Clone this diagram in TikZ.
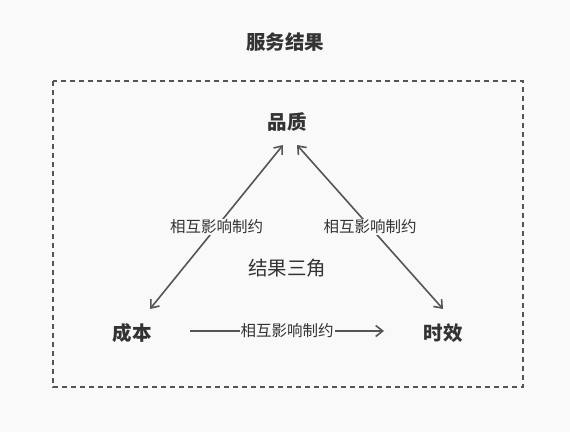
\documentclass[tikz,border=0pt]{standalone}
\usepackage{fontspec}
\setmainfont{Noto Sans CJK SC}
\usetikzlibrary{arrows.meta}
\definecolor{bg}{HTML}{F9F9F9}
\definecolor{ln}{HTML}{555555}
\definecolor{tx}{HTML}{333333}
\begin{document}
\begin{tikzpicture}[x=1pt,y=1pt,
  head/.style={font=\fontsize{19.5}{22}\selectfont\bfseries,text=tx},
  lbl/.style={font=\fontsize{15.5}{18}\selectfont,text=tx,fill=bg,inner sep=1pt},
  conn/.style={draw=ln,line width=1.6pt,-{Straight Barb[length=7pt,width=11pt,line width=1.6pt]}},
  both/.style={draw=ln,line width=1.6pt,{Straight Barb[length=7pt,width=11pt,line width=1.6pt]}-{Straight Barb[length=7pt,width=11pt,line width=1.6pt]}}]
\fill[bg] (0,0) rectangle (570,432);
\useasboundingbox (0,0) rectangle (570,432);
\node[head] (title) at (285,390) {服务结果};
\draw[ln,line width=1.6pt,dash pattern=on 5pt off 4pt] (53,351) rectangle (523,45);
\node[head] (q) at (287,310) {品质};
\node[head] (c) at (132,99) {成本};
\node[head] (t) at (443,99) {时效};
\node[font=\fontsize{19.5}{22}\selectfont,text=tx] (tri) at (287,164) {结果三角};
\coordinate (qL) at (283,287);
\coordinate (qR) at (297,287);
\coordinate (cT) at (150,123);
\coordinate (tT) at (443,123);
\coordinate (cR) at (190,101);
\coordinate (tL) at (384,101);
\draw[both] (cT) -- node[lbl] (l1) {相互影响制约} (qL);
\draw[both] (qR) -- node[lbl] (l2) {相互影响制约} (tT);
\draw[conn] (cR) -- node[lbl] (l3) {相互影响制约} (tL);
\end{tikzpicture}
\end{document}
